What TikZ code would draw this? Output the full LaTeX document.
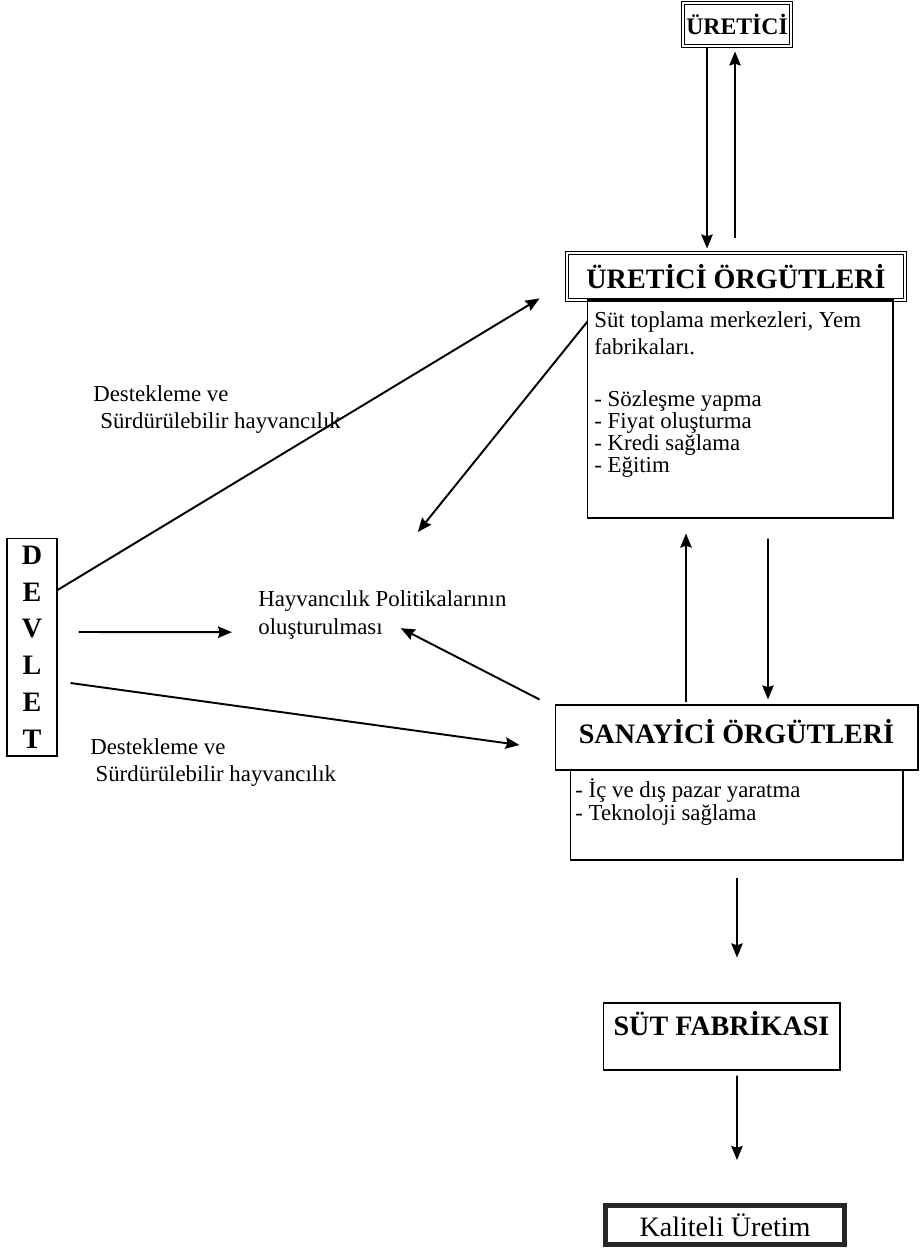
\documentclass[tikz,border=0pt]{standalone}
\usepackage{fontspec}
\setmainfont{Liberation Serif}
\usetikzlibrary{calc,arrows.meta}

\begin{document}
\begin{tikzpicture}[x=0.02cm,y=-0.02cm,>={Stealth[length=8pt,width=6.5pt,inset=1pt]},
  kutu/.style={draw,line width=0.6pt,inner sep=0pt},
  cift/.style={draw,double,line width=0.5pt,double distance=1.6pt,inner sep=0pt,font=\fontsize{16}{16}\selectfont\bfseries},
  baslik/.style={kutu,font=\fontsize{16}{16}\selectfont\bfseries},
  yazi/.style={font=\fontsize{13}{12.5}\selectfont,align=left,inner sep=0pt,anchor=north west},
  ok/.style={->,line width=1.1pt}]
\useasboundingbox (0,0) rectangle (921,1251);
% Uretici ve orgutleri
\node[cift,font=\fontsize{13.5}{13.5}\selectfont\bfseries,minimum width=2.16cm,minimum height=0.86cm] (uretici) at (737,24.5) {ÜRETİCİ};
\node[cift,minimum width=6.76cm,minimum height=0.94cm] (uorgut) at (736,276.5) {ÜRETİCİ ÖRGÜTLERİ};
\node[kutu,minimum width=6.12cm,minimum height=4.36cm] (uicerik) at (740,409) {};
\node[yazi] (uyazi) at (594,311) {Süt toplama merkezleri, Yem\\[2.8pt]fabrikaları.\\[17.4pt]- Sözleşme yapma\\- Fiyat oluşturma\\- Kredi sağlama\\- Eğitim};
% Sanayici orgutleri
\node[baslik,minimum width=7.26cm,text height=0.76cm,text depth=0.54cm] (sanayi) at (736.5,737.5) {SANAYİCİ ÖRGÜTLERİ};
\node[kutu,minimum width=6.66cm,minimum height=1.8cm] (sicerik) at (736.5,815) {};
\node[yazi] (syazi) at (575,778) {- İç ve dış pazar yaratma\\[0.5pt]- Teknoloji sağlama};
% Sut fabrikasi, kaliteli uretim
\node[baslik,minimum width=4.74cm,text height=0.64cm,text depth=0.7cm] (sut) at (721.5,1036.5) {SÜT FABRİKASI};
\node[draw,line width=2.8pt,draw=black!85,inner sep=0pt,minimum width=4.78cm,minimum height=0.78cm,font=\fontsize{16}{16}\selectfont] (kalite) at (725,1225) {Kaliteli Üretim};
% Devlet
\node[kutu,align=center,minimum width=1.0cm,minimum height=4.36cm,font=\fontsize{16}{20.9}\selectfont\bfseries] (devlet) at (32,647) {D\\E\\V\\L\\E\\T};
\node[yazi] (politika) at (258,590) {Hayvancılık Politikalarının\\[3.4pt]oluşturulması};
\node[yazi] (destek1) at (93,385) {Destekleme ve\\[2.8pt]\hspace{4pt}Sürdürülebilir hayvancılık};
\node[yazi] (destek2) at (90,738) {Destekleme ve\\[2.8pt]\hspace{3pt}Sürdürülebilir hayvancılık};
% Oklar
\draw[ok] ([shift={(-30,2)}]uretici.south) -- ([shift={(-29,-4)}]uorgut.north);
\draw[ok] ([shift={(-1,-15)}]uorgut.north) -- ([shift={(-2,5)}]uretici.south);
\draw[ok] ([shift={(-50.5,-2)}]sanayi.north) -- ([shift={(-54,15)}]uicerik.south);
\draw[ok] ([shift={(28,20)}]uicerik.south) -- ([shift={(31.5,-5)}]sanayi.north);
\draw[ok] ([shift={(0.5,17)}]sicerik.south) -- ([shift={(15.5,-45)}]sut.north);
\draw[ok] ([shift={(15.5,5)}]sut.south) -- ([shift={(12,-43)}]kalite.north);
\draw[ok] ([shift={(0,-57)}]devlet.east) -- ([shift={(-27,-2)}]uorgut.south west);
\draw[ok] ([shift={(21,-15)}]devlet.east) -- ([shift={(-26,17.5)}]politika.west);
\draw[ok] ([shift={(13,36)}]devlet.east) -- ([shift={(-35,7.5)}]sanayi.west);
\draw[ok] ([shift={(1,22)}]uicerik.north west) -- ([shift={(35.5,-58)}]politika.north);
\draw[ok] ([shift={(-15,-5)}]sanayi.north west) -- ([shift={(-106,13.5)}]politika.east);
\end{tikzpicture}
\end{document}
